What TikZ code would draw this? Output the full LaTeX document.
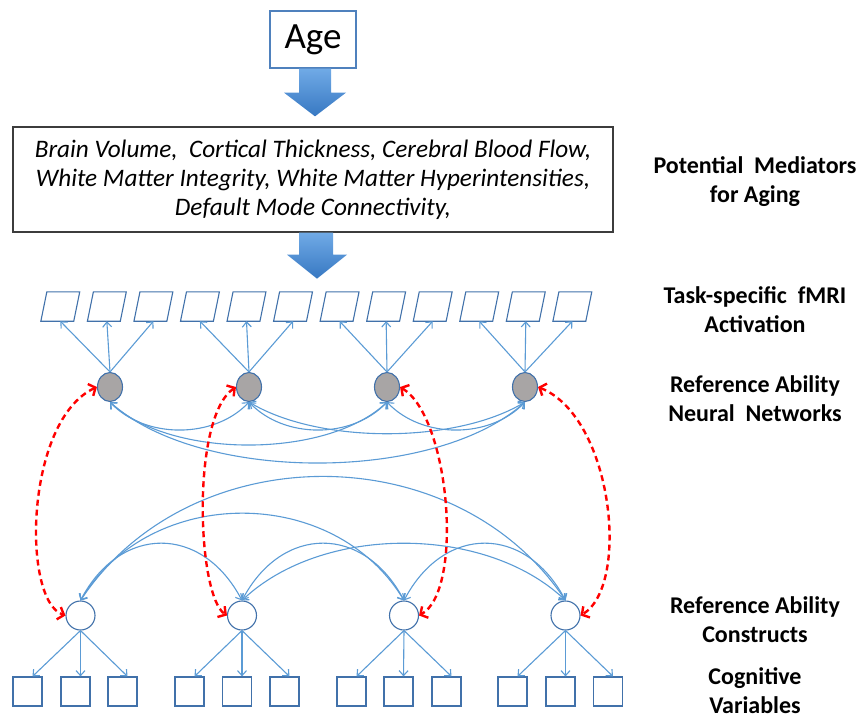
\documentclass[tikz,border=0pt]{standalone}
\usepackage{fontspec}
\setmainfont{Carlito}
\usetikzlibrary{arrows.meta,shapes.geometric,calc}
\definecolor{lnk}{RGB}{91,155,213}
\definecolor{bord}{RGB}{65,113,170}
\definecolor{grayfill}{RGB}{168,165,165}
\definecolor{agecol}{RGB}{79,129,189}
\definecolor{medcol}{RGB}{60,60,60}
\definecolor{arrtop}{RGB}{112,170,230}
\definecolor{arrbot}{RGB}{55,120,194}
\begin{document}
\begin{tikzpicture}[x=1pt,y=1pt,
  barb/.tip={Straight Barb[length=5pt,width=9pt]},
  rbarb/.tip={Straight Barb[length=5.5pt,width=13pt]},
  lnkarrow/.style={draw=lnk, line width=1.1pt, -barb},
  corr/.style={draw=lnk, line width=1.1pt, barb-barb},
  redcorr/.style={draw=red, line width=2.4pt, dash pattern=on 6pt off 4pt, rbarb-rbarb},
  parabox/.style={rectangle, draw=none, minimum height=29pt, minimum width=32.5pt, inner sep=0pt},
  paraline/.style={draw=bord, line width=1.1pt},
  gnode/.style={ellipse, minimum width=25pt, minimum height=29pt, inner sep=0pt,
    fill=grayfill, draw=bord, line width=1.1pt},
  wnode/.style={circle, minimum size=29pt, inner sep=0pt, fill=white, draw=bord, line width=1.1pt},
  sqnode/.style={rectangle, minimum size=29pt, inner sep=0pt, draw=bord, line width=1.2pt},
  agebox/.style={rectangle, draw=agecol, line width=1.3pt, minimum width=86pt,
    minimum height=57pt, inner sep=0pt, font=\fontsize{37}{44}\selectfont},
  medbox/.style={rectangle, draw=medcol, line width=1.3pt, minimum width=600pt,
    minimum height=105pt, inner sep=0pt, align=center,
    font=\itshape\fontsize{25.2}{29}\selectfont},
  lbl/.style={align=center, anchor=base, inner sep=0pt,
    font=\bfseries\fontsize{24}{29}\selectfont},
  blockarr/.style={top color=arrtop, bottom color=arrbot, draw=none}
]
\useasboundingbox (0,0) rectangle (859,-720);

% top boxes
\node[agebox] (age) at (313,-39.5) {Age};
\node[medbox] (med) at (313,-179.5) {Brain Volume,\ \ Cortical Thickness, Cerebral Blood Flow,\\
White Matter Integrity, White Matter Hyperintensities,\\
Default Mode Connectivity,};

% block arrows
\path[blockarr] ($(age.south)+(-14,0)$) -- ($(age.south)+(18,0)$) -- ($(age.south)+(18,-24)$)
  -- ($(age.south)+(33,-24)$) -- ($(med.north)+(2,10)$) -- ($(age.south)+(-29,-24)$)
  -- ($(age.south)+(-14,-24)$) -- cycle;
\path[blockarr] ($(med.south)+(-14,0)$) -- ($(med.south)+(20,0)$) -- ($(med.south)+(20,-22)$)
  -- ($(med.south)+(34,-22)$) -- ($(med.south)+(4,-46)$) -- ($(med.south)+(-26,-22)$)
  -- ($(med.south)+(-14,-22)$) -- cycle;

% fMRI parallelograms
\foreach \i in {1,...,12} {
  \pgfmathsetmacro\px{60.3+46.55*(\i-1)}
  \node[parabox] (p\i) at (\px,-306.5) {};
  \draw[paraline] ($(p\i.south west)+(-3,0)$) -- ($(p\i.south east)+(-3,0)$)
    -- ($(p\i.north east)+(3,0)$) -- ($(p\i.north west)+(3,0)$) -- cycle;
}

% gray neural network nodes
\node[gnode] (g1) at (110,-387) {};
\node[gnode] (g2) at (249,-387) {};
\node[gnode] (g3) at (387,-387) {};
\node[gnode] (g4) at (525,-387) {};

% white construct nodes
\node[wnode] (w1) at (80.5,-615.5) {};
\node[wnode] (w2) at (242,-615.5) {};
\node[wnode] (w3) at (404,-615.5) {};
\node[wnode] (w4) at (565.5,-615.5) {};

% cognitive variable squares
\foreach \x [count=\i] in {27.5,75.5,122.5,189.5,237,284.5,351.5,398.5,446.5,512.5,560.5,608} {
  \node[sqnode] (s\i) at (\x,-691.5) {};
}

% loadings
\foreach \k in {1,...,4} {
  \foreach \j in {0,1,2} {
    \pgfmathtruncatemacro\idx{3*\k-2+\j}
    \draw[lnkarrow] (g\k.north) -- (p\idx.south);
    \draw[lnkarrow] (w\k.south) -- ($(s\idx.north)+(5,0)$);
  }
}

% correlations among neural networks
\draw[corr] (g1.south) .. controls +(35,-37) and +(-35,-37) .. (g2.south);
\draw[corr] (g1.south) .. controls +(60,-57) and +(-60,-57) .. (g3.south);
\draw[corr] (g1.south) .. controls +(90,-81) and +(-90,-81) .. (g4.south);
\draw[corr] (g2.south) .. controls +(35,-37) and +(-35,-37) .. (g3.south);
\draw[corr] (g2.south) .. controls +(70,-42) and +(-70,-42) .. (g4.south);
\draw[corr] (g3.south) .. controls +(35,-37) and +(-35,-37) .. (g4.south);

% correlations among constructs
\draw[corr] (w1.north) .. controls +(40,76) and +(-40,76) .. (w2.north);
\draw[corr] (w1.north) .. controls +(70,116) and +(-70,116) .. (w3.north);
\draw[corr] (w1.north) .. controls +(110,165) and +(-110,165) .. (w4.north);
\draw[corr] (w2.north) .. controls +(40,76) and +(-40,76) .. (w3.north);
\draw[corr] (w2.north) .. controls +(80,76) and +(-80,76) .. (w4.north);
\draw[corr] (w3.north) .. controls +(40,76) and +(-40,76) .. (w4.north);

% red dashed links
\draw[redcorr] (g1.west) .. controls +(-72,-33) and +(-44,15) .. (w1.west);
\draw[redcorr] (g2.west) .. controls +(-45,-30) and +(-30,20) .. (w2.west);
\draw[redcorr] (g3.east) .. controls +(50,-30) and +(45,25) .. (w3.east);
\draw[redcorr] (g4.east) .. controls +(75,-30) and +(50,30) .. (w4.east);

% right labels (anchor = baseline of last line)
\node[lbl] (l1) at (755,-202) {Potential\ \ Mediators\\for Aging};
\node[lbl] (l2) at (755,-332) {Task-specific\ \ fMRI\\Activation};
\node[lbl] (l3) at (755,-421) {Reference Ability\\Neural\ \ Networks};
\node[lbl] (l4) at (755,-642) {Reference Ability\\Constructs};
\node[lbl] (l5) at (755,-713) {Cognitive\\Variables};
\end{tikzpicture}
\end{document}
